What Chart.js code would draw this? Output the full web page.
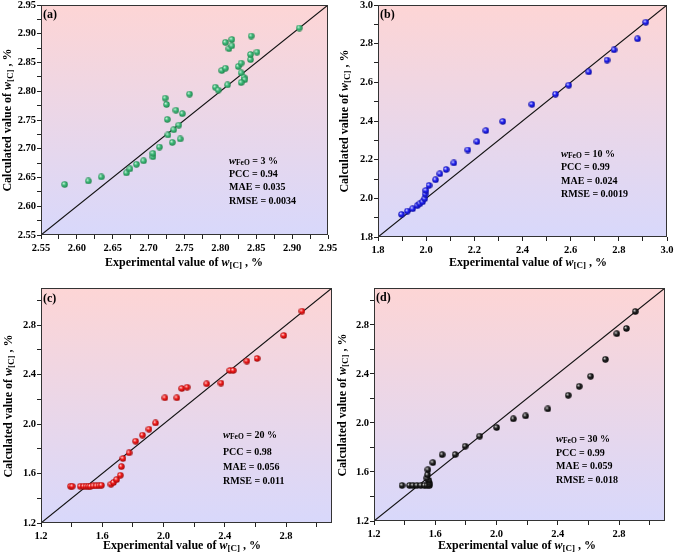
<!DOCTYPE html>
<html>
<head>
<meta charset="utf-8">
<script src="https://cdn.jsdelivr.net/npm/chart.js@4.4.1/dist/chart.umd.min.js"></script>
<style>
  html, body { margin: 0; padding: 0; background: #fff; }
  #wrap { position: relative; width: 674px; height: 558px; }
  .panel { position: absolute; width: 337px; height: 279px; }
</style>
</head>
<body>
<div id="wrap">
  <div class="panel" style="left:0;top:0"><canvas id="chartA" width="337" height="279"></canvas></div>
  <div class="panel" style="left:337px;top:0"><canvas id="chartB" width="337" height="279"></canvas></div>
  <div class="panel" style="left:0;top:279px"><canvas id="chartC" width="337" height="279"></canvas></div>
  <div class="panel" style="left:337px;top:279px"><canvas id="chartD" width="337" height="279"></canvas></div>
</div>
<script>
'use strict';

// (a) w_FeO = 3 %
var expA = [2.583, 2.616, 2.634, 2.669, 2.674, 2.683, 2.693, 2.706, 2.706, 2.715, 2.733, 2.744, 2.727, 2.735,
    2.742, 2.726, 2.738, 2.747, 2.725, 2.723, 2.757, 2.793, 2.797, 2.810, 2.802, 2.807, 2.825, 2.829, 2.829,
    2.833, 2.834, 2.829, 2.842, 2.842, 2.851, 2.807, 2.816, 2.812, 2.816, 2.843, 2.910];
var calcA = [2.638, 2.644, 2.651, 2.658, 2.665, 2.673, 2.679, 2.686, 2.692, 2.703, 2.711, 2.717, 2.724, 2.733,
    2.741, 2.751, 2.767, 2.761, 2.777, 2.788, 2.795, 2.807, 2.802, 2.811, 2.836, 2.840, 2.843, 2.849, 2.832,
    2.824, 2.820, 2.815, 2.855, 2.864, 2.868, 2.885, 2.890, 2.874, 2.879, 2.896, 2.910];

// (b) w_FeO = 10 %
var expB = [1.898, 1.922, 1.944, 1.963, 1.974, 1.985, 1.994, 1.996, 1.999, 2.012, 2.039, 2.057, 2.083, 2.115,
    2.173, 2.211, 2.248, 2.318, 2.439, 2.537, 2.592, 2.675, 2.751, 2.780, 2.878, 2.912];
var calcB = [1.917, 1.934, 1.946, 1.962, 1.972, 1.982, 1.998, 2.022, 2.041, 2.067, 2.096, 2.127, 2.149, 2.183,
    2.250, 2.293, 2.350, 2.398, 2.486, 2.539, 2.585, 2.654, 2.715, 2.768, 2.825, 2.911];

// (c) w_FeO = 20 %
var expC = [1.393, 1.404, 1.456, 1.478, 1.495, 1.510, 1.523, 1.540, 1.560, 1.579, 1.595, 1.657, 1.673, 1.694,
    1.718, 1.725, 1.735, 1.775, 1.818, 1.863, 1.905, 1.948, 2.009, 2.087, 2.119, 2.154, 2.282, 2.375, 2.434,
    2.455, 2.544, 2.611, 2.785, 2.904];
var calcC = [1.497, 1.497, 1.497, 1.497, 1.497, 1.497, 1.497, 1.500, 1.500, 1.502, 1.505, 1.513, 1.527, 1.551,
    1.586, 1.656, 1.721, 1.767, 1.861, 1.910, 1.958, 2.009, 2.212, 2.212, 2.287, 2.298, 2.325, 2.331, 2.433,
    2.433, 2.509, 2.530, 2.716, 2.913];

// (d) w_FeO = 30 %
var expD = [1.383, 1.432, 1.454, 1.480, 1.506, 1.530, 1.547, 1.562, 1.562, 1.558, 1.545, 1.549, 1.552, 1.584,
    1.645, 1.730, 1.795, 1.890, 2.001, 2.110, 2.190, 2.335, 2.468, 2.540, 2.614, 2.711, 2.785, 2.848, 2.906];
var calcD = [1.490, 1.490, 1.490, 1.490, 1.490, 1.490, 1.490, 1.490, 1.509, 1.531, 1.550, 1.577, 1.618, 1.676,
    1.741, 1.742, 1.810, 1.892, 1.962, 2.033, 2.057, 2.114, 2.225, 2.298, 2.380, 2.518, 2.727, 2.770, 2.908];

// labelled ticks
var ticksA = [2.55, 2.60, 2.65, 2.70, 2.75, 2.80, 2.85, 2.90, 2.95];
var ticksB = [1.8, 2.0, 2.2, 2.4, 2.6, 2.8, 3.0];
var ticksCD = [1.2, 1.6, 2.0, 2.4, 2.8];

var feoA = '3 %', feoB = '10 %', feoC = '20 %', feoD = '30 %';
var statsA = ['PCC = 0.94', 'MAE = 0.035', 'RMSE = 0.0034'];
var statsB = ['PCC = 0.99', 'MAE = 0.024', 'RMSE = 0.0019'];
var statsC = ['PCC = 0.98', 'MAE = 0.056', 'RMSE = 0.011'];
var statsD = ['PCC = 0.99', 'MAE = 0.059', 'RMSE = 0.018'];

var SERIF = '"Liberation Serif", "Times New Roman", serif';
var W = 337, H = 279;

function font(size, italic) {
    return (italic ? 'italic ' : '') + 'bold ' + size + 'px ' + SERIF;
}

// small shaded ball used as point style
function ball(light, base, dark) {
    var c = document.createElement('canvas');
    c.width = 7;
    c.height = 7;
    var g = c.getContext('2d');
    var grad = g.createRadialGradient(2.4, 2.3, 0.2, 3.5, 3.5, 3.6);
    grad.addColorStop(0, light);
    grad.addColorStop(0.45, base);
    grad.addColorStop(1, dark);
    g.fillStyle = grad;
    g.beginPath();
    g.arc(3.5, 3.5, 3.2, 0, Math.PI * 2);
    g.fill();
    return c;
}

// text with italic / subscript pieces: [text, font, dy]
function drawRich(ctx, parts, x, y, align) {
    var w = 0;
    parts.forEach(function (p) { ctx.font = p[1]; w += ctx.measureText(p[0]).width; });
    var cx = align === 'center' ? x - w / 2 : x;
    ctx.textAlign = 'left';
    ctx.textBaseline = 'middle';
    parts.forEach(function (p) {
        ctx.font = p[1];
        ctx.fillText(p[0], cx, y + (p[2] || 0));
        cx += ctx.measureText(p[0]).width;
    });
}

function titleParts(start) {
    return [[start, font(12)], ['w', font(12, true)], ['[C]', font(9), 3], [' , %', font(12)]];
}

function buildTicks(majors, max) {
    var out = [];
    var half = (majors[1] - majors[0]) / 2;
    majors.forEach(function (v) {
        out.push({value: v});
        if (v + half <= max + 1e-9) {
            out.push({value: v + half});
        }
    });
    return out;
}

function isMajor(majors, v) {
    return majors.some(function (m) { return Math.abs(m - v) < 1e-6; });
}

var decorPlugin = {
    id: 'decor',
    beforeDatasetsDraw: function (chart) {
        var a = chart.chartArea, ctx = chart.ctx;
        var grad = ctx.createLinearGradient(0, a.top, 0, a.bottom);
        grad.addColorStop(0, '#fdd5d5');
        grad.addColorStop(1, '#d8d8fb');
        ctx.save();
        ctx.fillStyle = grad;
        ctx.fillRect(a.left, a.top, a.right - a.left, a.bottom - a.top);
        ctx.restore();
    },
    afterDraw: function (chart) {
        var p = chart.options.plugins.decor;
        var a = chart.chartArea, ctx = chart.ctx;
        ctx.save();
        ctx.strokeStyle = '#333';
        ctx.lineWidth = 1;
        ctx.strokeRect(Math.round(a.left) + 0.5, Math.round(a.top) + 0.5,
            Math.round(a.right - a.left) - 1, Math.round(a.bottom - a.top) - 1);
        ctx.fillStyle = '#000';

        // panel letter
        ctx.font = font(12);
        ctx.textAlign = 'left';
        ctx.textBaseline = 'middle';
        ctx.fillText(p.letter, p.letterPos[0], p.letterPos[1]);

        // statistics block
        drawRich(ctx, [['w', font(10.5, true)], ['FeO', font(7.5), 2.5], [' = ' + p.feo, font(10)]],
            p.statsX, p.statsY[0], 'left');
        for (var i = 0; i < p.stats.length; i++) {
            ctx.font = font(10);
            ctx.fillText(p.stats[i], p.statsX, p.statsY[i + 1]);
        }

        // axis titles
        drawRich(ctx, titleParts('Experimental value of '), p.xTitle[0], p.xTitle[1], 'center');
        ctx.translate(p.yTitle[0], p.yTitle[1]);
        ctx.rotate(-Math.PI / 2);
        drawRich(ctx, titleParts('Calculated value of '), 0, 0, 'center');
        ctx.restore();
    }
};

function makePanel(id, cfg) {
    var pts = cfg.exp.map(function (x, i) { return {x: x, y: cfg.calc[i]}; });
    var ar = cfg.area;
    var axis = function (isX) {
        return {
            type: 'linear',
            min: cfg.range[0],
            max: cfg.range[1],
            afterBuildTicks: function (s) { s.ticks = buildTicks(cfg.majors, cfg.range[1]); },
            afterFit: function (s) {
                if (isX) {
                    s.height = H - ar.b;
                } else {
                    s.width = ar.l;
                }
                s.paddingLeft = s.paddingRight = s.paddingTop = s.paddingBottom = 0;
            },
            grid: {drawOnChartArea: false, tickLength: 4, tickColor: '#222', tickWidth: 1},
            border: {display: false},
            ticks: {
                autoSkip: false,
                maxRotation: 0,
                padding: isX ? 3 : 1,
                color: '#000',
                font: {family: SERIF, size: 10.5, weight: 'bold'},
                callback: function (v) {
                    return isMajor(cfg.majors, v) ? v.toFixed(cfg.digits) : '';
                }
            }
        };
    };

    return new Chart(document.getElementById(id), {
        type: 'scatter',
        data: {
            datasets: [{
                data: pts,
                pointStyle: cfg.ball,
                pointRadius: 3,
                order: 0
            }, {
                data: [{x: cfg.range[0], y: cfg.range[0]}, {x: cfg.range[1], y: cfg.range[1]}],
                showLine: true,
                borderColor: '#111',
                borderWidth: 1.1,
                pointRadius: 0,
                order: 1
            }]
        },
        options: {
            responsive: false,
            animation: false,
            layout: {padding: {left: 0, top: ar.t, right: W - ar.r, bottom: 0}},
            plugins: {
                legend: {display: false},
                tooltip: {enabled: false},
                decor: cfg.decor
            },
            scales: {x: axis(true), y: axis(false)}
        },
        plugins: [decorPlugin]
    });
}

makePanel('chartA', {
    exp: expA, calc: calcA, range: [2.55, 2.95], majors: ticksA, digits: 2,
    area: {l: 41, t: 5, r: 328, b: 235},
    ball: ball('#c8f0d8', '#3cb878', '#1c7a44'),
    decor: {letter: '(a)', letterPos: [43, 15], feo: feoA, stats: statsA, statsX: 229,
        statsY: [161, 174, 187.5, 201], xTitle: [184, 263], yTitle: [8, 120]}
});

makePanel('chartB', {
    exp: expB, calc: calcB, range: [1.8, 3.0], majors: ticksB, digits: 1,
    area: {l: 41, t: 5, r: 330, b: 237},
    ball: ball('#d8d8ff', '#2020f0', '#0a0a90'),
    decor: {letter: '(b)', letterPos: [43, 15], feo: feoB, stats: statsB, statsX: 224,
        statsY: [154, 167, 181, 194.5], xTitle: [191, 263], yTitle: [8, 121]}
});

makePanel('chartC', {
    exp: expC, calc: calcC, range: [1.2, 3.1], majors: ticksCD, digits: 1,
    area: {l: 41, t: 9, r: 332, b: 244},
    ball: ball('#ffd0d0', '#f01818', '#900808'),
    decor: {letter: '(c)', letterPos: [43, 19.5], feo: feoC, stats: statsC, statsX: 223,
        statsY: [156, 173, 188.5, 202.5], xTitle: [182, 267], yTitle: [9, 127]}
});

makePanel('chartD', {
    exp: expD, calc: calcD, range: [1.2, 3.1], majors: ticksCD, digits: 1,
    area: {l: 37, t: 9, r: 328, b: 242},
    ball: ball('#d0d0d0', '#202020', '#000000'),
    decor: {letter: '(d)', letterPos: [39, 18.5], feo: feoD, stats: statsD, statsX: 219,
        statsY: [160, 174, 187, 201], xTitle: [180, 267], yTitle: [6, 126]}
});
</script>
</body>
</html>
